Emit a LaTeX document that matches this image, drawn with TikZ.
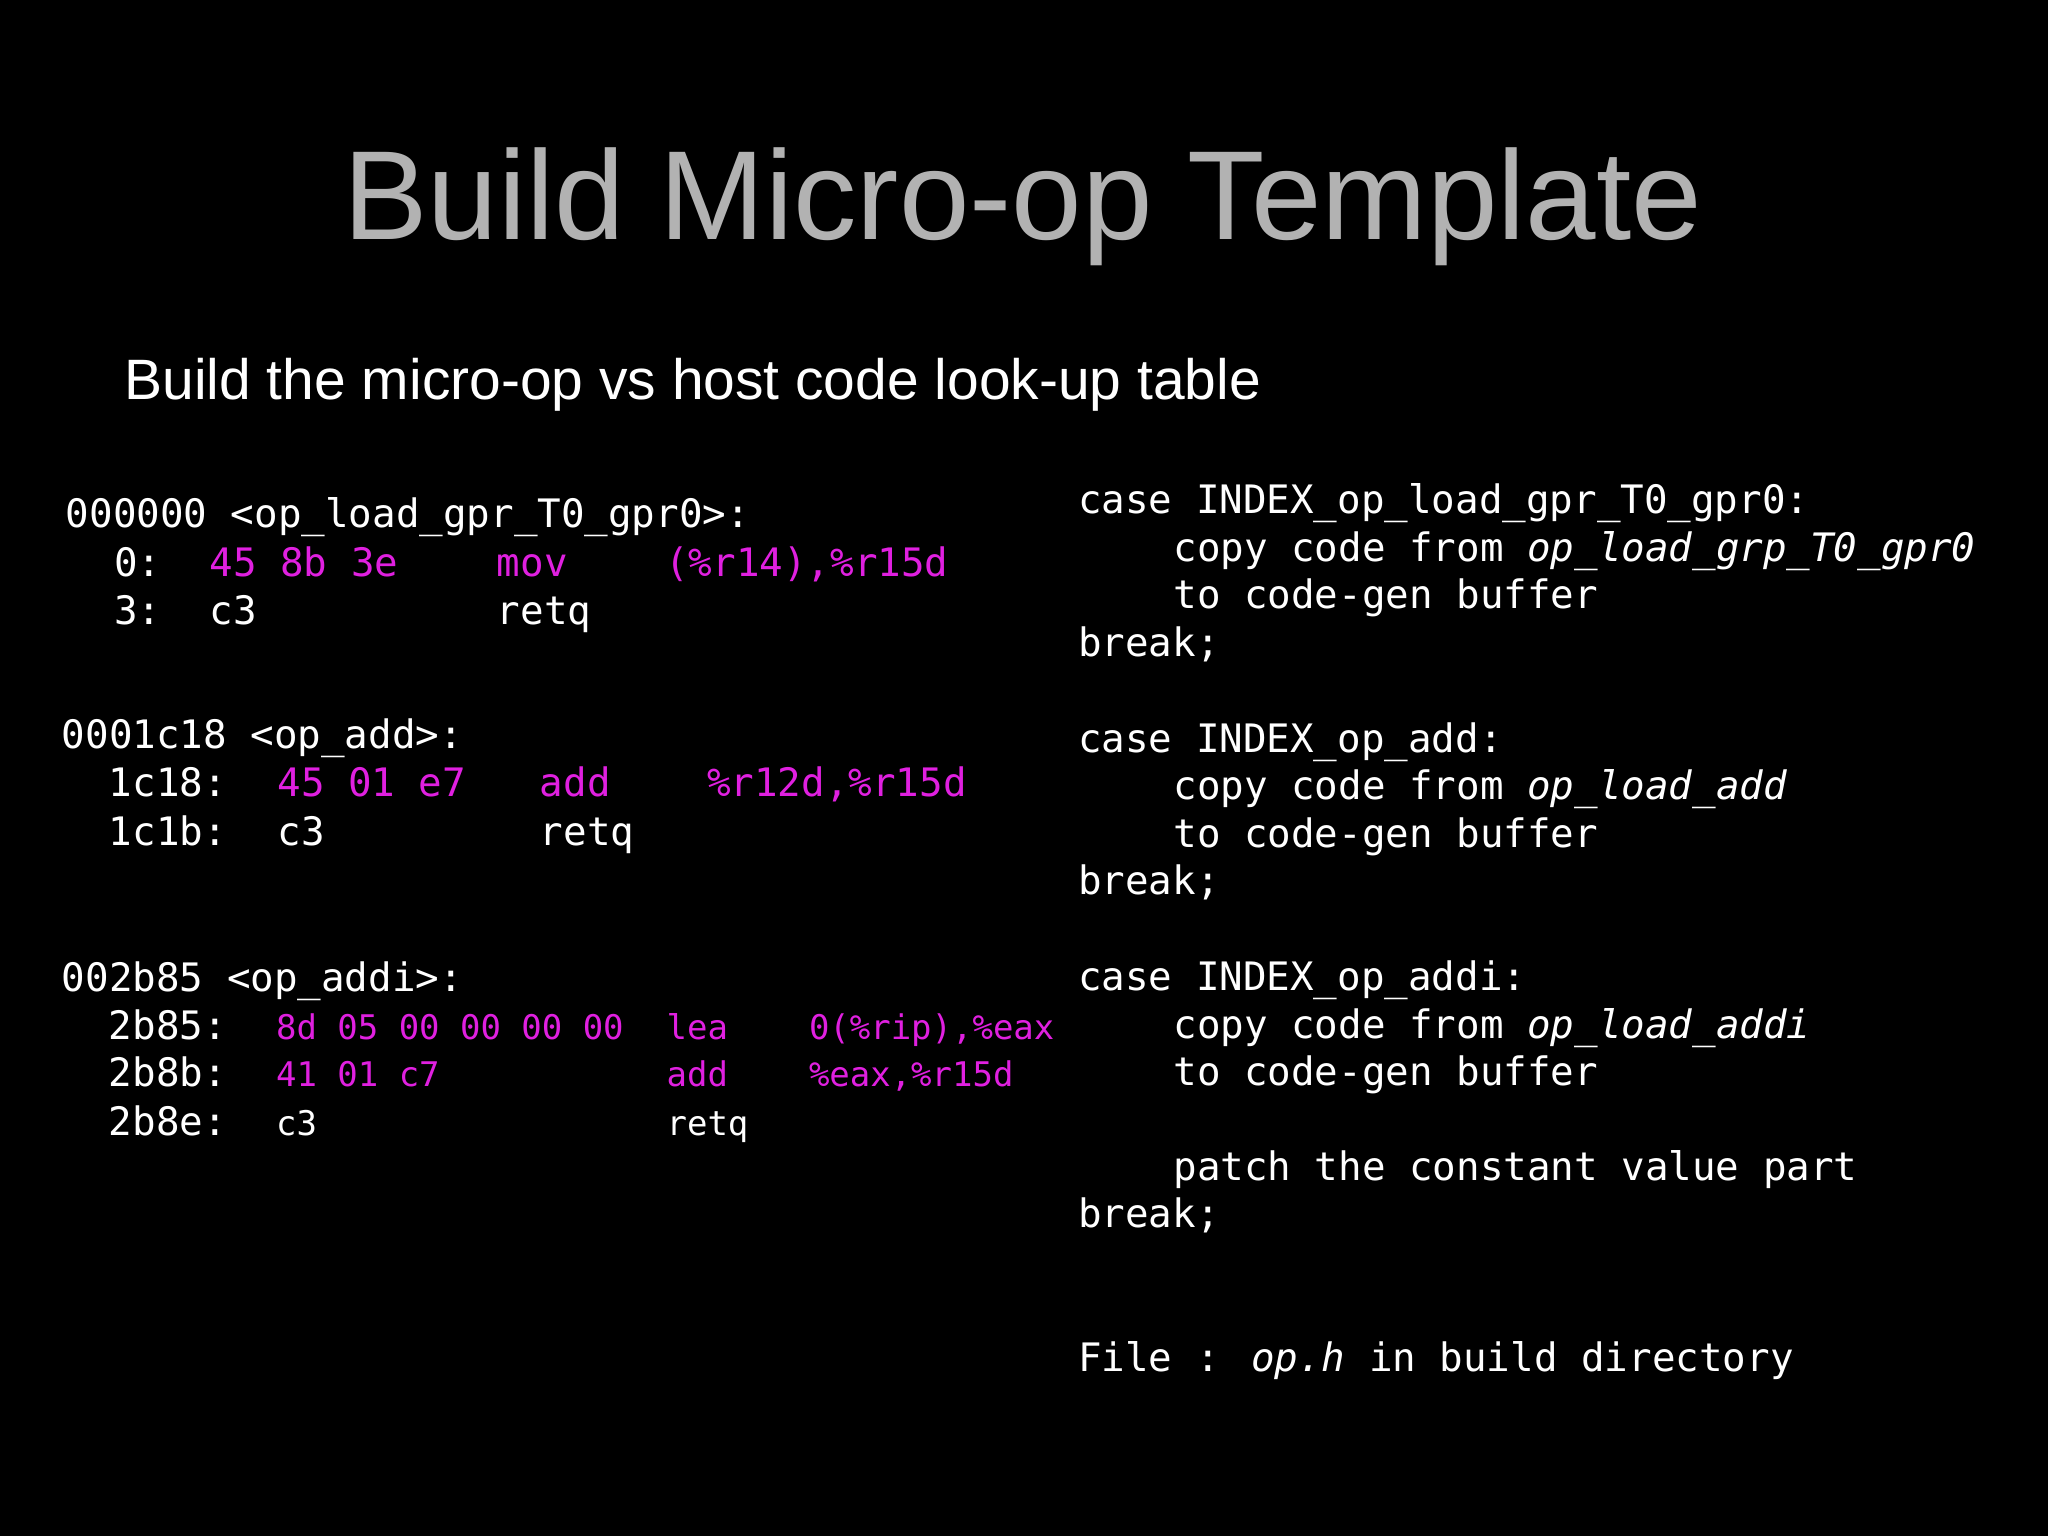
\documentclass[tikz,border=0pt]{standalone}
\usepackage{fontspec}
\setmainfont{Liberation Sans}
\newfontfamily\mono{DejaVu Sans Mono}
\begin{document}
\begin{tikzpicture}[x=0.5pt,y=-0.5pt,
  t/.style={anchor=base west,inner sep=0pt,text=white,font=\mono\fontsize{15}{18}\selectfont},
  m/.style={t,text=mag},
  s/.style={t,font=\mono\fontsize{13}{16}\selectfont},
  sm/.style={s,text=mag}]
\definecolor{mag}{HTML}{E020E0}
\fill[black] (0,0) rectangle (1568,1176);
\useasboundingbox (0,0) rectangle (1568,1176);
\node[anchor=base,inner sep=0pt,text=black!30!white,font=\fontsize{48.5}{56}\selectfont] (title) at (783,183) {Build Micro-op Template};
\node[anchor=base west,inner sep=0pt,text=white,font=\fontsize{21.8}{26}\selectfont] (sub) at (95,306) {Build the micro-op vs host code look-up table};
% left column
\node[t] (a0) at (50,404) {000000 <op\_load\_gpr\_T0\_gpr0>:};
\node[t] (a1) at (87,441) {0:}; \node[m] (a2) at (160,441) {45 8b 3e}; \node[m] (a3) at (380,441) {mov}; \node[m] (a4) at (509,441) {(\%r14),\%r15d};
\node[t] (a5) at (87,478) {3:}; \node[t] (a6) at (160,478) {c3}; \node[t] (a7) at (380,478) {retq};
\node[t] (b0) at (47,573) {0001c18 <op\_add>:};
\node[t] (b1) at (83,610) {1c18:}; \node[m] (b2) at (212,610) {45 01 e7}; \node[m] (b3) at (413,610) {add}; \node[m] (b4) at (541,610) {\%r12d,\%r15d};
\node[t] (b5) at (83,647) {1c1b:}; \node[t] (b6) at (212,647) {c3}; \node[t] (b7) at (413,647) {retq};
\node[t] (c0) at (47,759) {002b85 <op\_addi>:};
\node[t] (c1) at (83,796) {2b85:}; \node[sm] (c2) at (211,796) {8d 05 00 00 00 00}; \node[sm] (c3) at (510,796) {lea}; \node[sm] (c4) at (619,796) {0(\%rip),\%eax};
\node[t] (c5) at (83,832) {2b8b:}; \node[sm] (c6) at (211,832) {41 01 c7}; \node[sm] (c7) at (510,832) {add}; \node[sm] (c8) at (619,832) {\%eax,\%r15d};
\node[t] (c9) at (83,869) {2b8e:}; \node[s] (c10) at (211,869) {c3}; \node[s] (c11) at (510,869) {retq};
% right column
\node[t] (r1) at (825,393) {case INDEX\_op\_load\_gpr\_T0\_gpr0:};
\node[t] (r2) at (898,430) {copy code from \textit{op\_load\_grp\_T0\_gpr0}};
\node[t] (r3) at (898,466) {to code-gen buffer};
\node[t] (r4) at (825,503) {break;};
\node[t] (r5) at (825,576) {case INDEX\_op\_add:};
\node[t] (r6) at (898,612) {copy code from \textit{op\_load\_add}};
\node[t] (r7) at (898,649) {to code-gen buffer};
\node[t] (r8) at (825,685) {break;};
\node[t] (r9) at (825,758) {case INDEX\_op\_addi:};
\node[t] (r10) at (898,795) {copy code from \textit{op\_load\_addi}};
\node[t] (r11) at (898,831) {to code-gen buffer};
\node[t] (r12) at (898,904) {patch the constant value part};
\node[t] (r13) at (825,940) {break;};
\node[t] (r14) at (825,1050) {File : \textit{op.h} in build directory};
\end{tikzpicture}
\end{document}
